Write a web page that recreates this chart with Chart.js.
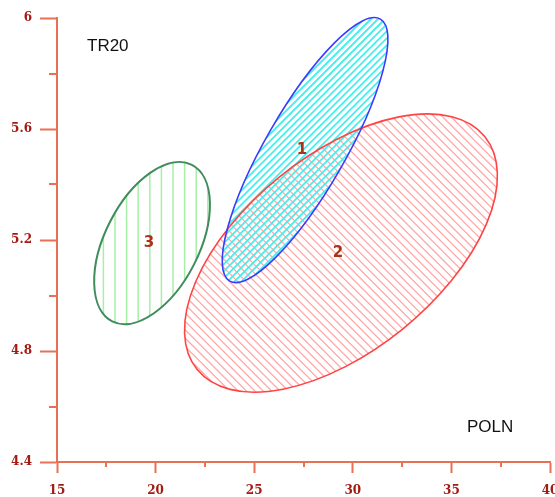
<!DOCTYPE html>
<html>
<head>
<meta charset="utf-8">
<script src="https://cdn.jsdelivr.net/npm/chart.js@4.4.0/dist/chart.umd.min.js"></script>
<style>
html, body { margin: 0; padding: 0; background: #fff; }
#chart { display: block; }
</style>
</head>
<body>
<canvas id="chart" width="555" height="497"></canvas>
<script>
// confidence ellipses in data units: centre plus the end of each half axis
var groupLabels = ['1', '2', '3'];
var centerX = [27.58, 29.40, 19.82];
var centerY = [5.524, 5.153, 5.189];
var majorEndX = [31.40, 36.69, 21.84];
var majorEndY = [5.996, 5.573, 5.471];
var minorEndX = [29.33, 32.53, 21.95];
var minorEndY = [5.452, 4.879, 5.112];

var xTicks = [15, 20, 25, 30, 35, 40];
var xMinorTicks = [17.5, 22.5, 27.5, 32.5, 37.5];
var yTicks = [4.4, 4.8, 5.2, 5.6, 6];
var yMinorTicks = [4.6, 5.0, 5.4, 5.8];

var xTitle = 'POLN';
var yTitle = 'TR20';

var axisColor = 'rgb(232,112,84)';
var tickFont = { family: 'DejaVu Serif', size: 12, weight: 'bold' };
var tickColor = '#a31c14';

// per group: outline, hatch colour, hatch kind
var groupStyles = [
  { line: '#3b3bff', lineWidth: 1.6, hatch: '#45eeee', hatchWidth: 1.8, kind: 'up', step: 7 },
  { line: '#ff4444', lineWidth: 1.6, hatch: '#ffa8a8', hatchWidth: 1.3, kind: 'down', step: 8.4 },
  { line: '#3f8c5c', lineWidth: 2, hatch: '#a6f0a6', hatchWidth: 1.5, kind: 'vert', step: 11.6 }
];

function ellipsePath(ctx, chart, i) {
  var sx = chart.scales.x, sy = chart.scales.y;
  var cx = sx.getPixelForValue(centerX[i]), cy = sy.getPixelForValue(centerY[i]);
  var ux = sx.getPixelForValue(majorEndX[i]) - cx, uy = sy.getPixelForValue(majorEndY[i]) - cy;
  var vx = sx.getPixelForValue(minorEndX[i]) - cx, vy = sy.getPixelForValue(minorEndY[i]) - cy;
  ctx.save();
  ctx.transform(ux, uy, vx, vy, cx, cy);
  ctx.beginPath();
  ctx.arc(0, 0, 1, 0, Math.PI * 2);
  ctx.closePath();
  ctx.restore();
}

var ellipsePlugin = {
  id: 'ellipses',
  beforeDatasetsDraw: function(chart) {
    var ctx = chart.ctx;
    var area = chart.chartArea;
    var order = [1, 0, 2];
    order.forEach(function(i) {
      var st = groupStyles[i];
      ctx.save();
      ellipsePath(ctx, chart, i);
      ctx.clip();
      ctx.strokeStyle = st.hatch;
      ctx.lineWidth = st.hatchWidth;
      ctx.beginPath();
      var h = area.bottom - area.top;
      for (var x = area.left - h; x < area.right + h; x += st.step) {
        if (st.kind === 'up') {
          ctx.moveTo(x, area.bottom); ctx.lineTo(x + h, area.top);
        } else if (st.kind === 'down') {
          ctx.moveTo(x, area.top); ctx.lineTo(x + h, area.bottom);
        } else {
          ctx.moveTo(x + h, area.top); ctx.lineTo(x + h, area.bottom);
        }
      }
      ctx.stroke();
      ctx.restore();
    });
    order.forEach(function(i) {
      var st = groupStyles[i];
      ctx.save();
      ellipsePath(ctx, chart, i);
      ctx.strokeStyle = st.line;
      ctx.lineWidth = st.lineWidth;
      ctx.stroke();
      ctx.restore();
    });
    // group numbers at the centres
    ctx.save();
    ctx.font = 'bold 15px "DejaVu Sans"';
    ctx.fillStyle = '#a8341a';
    ctx.textAlign = 'center';
    ctx.textBaseline = 'middle';
    groupLabels.forEach(function(lbl, i) {
      ctx.fillText(lbl, chart.scales.x.getPixelForValue(centerX[i]) - 3, chart.scales.y.getPixelForValue(centerY[i]));
    });
    ctx.restore();
  },
  afterDraw: function(chart) {
    var ctx = chart.ctx;
    var sx = chart.scales.x, sy = chart.scales.y;
    var area = chart.chartArea;
    ctx.save();
    ctx.strokeStyle = axisColor;
    ctx.lineWidth = 2;
    ctx.beginPath();
    xMinorTicks.forEach(function(v) {
      var px = Math.round(sx.getPixelForValue(v));
      ctx.moveTo(px, area.bottom); ctx.lineTo(px, area.bottom + 5);
    });
    yMinorTicks.forEach(function(v) {
      var py = Math.round(sy.getPixelForValue(v));
      ctx.moveTo(area.left, py); ctx.lineTo(area.left - 8, py);
    });
    ctx.stroke();
    ctx.fillStyle = '#111';
    ctx.font = '17px "Liberation Sans"';
    ctx.textBaseline = 'alphabetic';
    ctx.fillText(yTitle, 87, 51);
    ctx.fillText(xTitle, 467, 432);
    ctx.restore();
  }
};

var datasets = groupLabels.map(function(lbl, i) {
  return {
    label: lbl,
    data: [{ x: centerX[i], y: centerY[i] }],
    pointRadius: 0,
    showLine: false
  };
});

new Chart(document.getElementById('chart'), {
  type: 'scatter',
  data: { datasets: datasets },
  options: {
    responsive: false,
    animation: false,
    layout: { padding: { top: 18, right: 5, left: 0, bottom: 0 } },
    plugins: { legend: { display: false }, tooltip: { enabled: false } },
    scales: {
      x: {
        type: 'linear', position: 'bottom', min: 15, max: 40,
        afterBuildTicks: function(scale) { scale.ticks = xTicks.map(function(v) { return { value: v }; }); },
        afterFit: function(scale) { scale.height = 35; scale.paddingLeft = 0; scale.paddingRight = 0; },
        grid: { drawOnChartArea: false, drawTicks: true, tickLength: 11, tickColor: axisColor, tickWidth: 2 },
        border: { color: axisColor, width: 2 },
        ticks: { font: tickFont, color: tickColor, padding: 11, maxRotation: 0, autoSkip: false }
      },
      y: {
        type: 'linear', position: 'left', min: 4.4, max: 6,
        afterBuildTicks: function(scale) { scale.ticks = yTicks.map(function(v) { return { value: v }; }); },
        afterFit: function(scale) { scale.width = 57; scale.paddingTop = 0; scale.paddingBottom = 0; },
        grid: { drawOnChartArea: false, drawTicks: true, tickLength: 17, tickColor: axisColor, tickWidth: 2 },
        border: { color: axisColor, width: 2 },
        ticks: { font: tickFont, color: tickColor, padding: 8, autoSkip: false,
          callback: function(v) { return String(Math.round(v * 10) / 10); } }
      }
    }
  },
  plugins: [ellipsePlugin]
});
</script>
</body>
</html>
